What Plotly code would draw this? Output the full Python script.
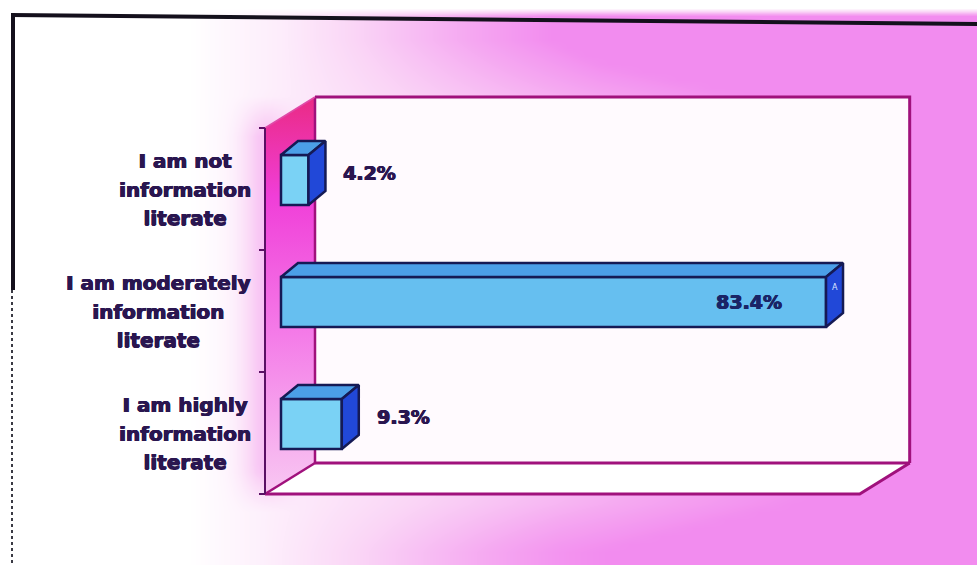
import numpy as np
import plotly.graph_objects as go

# ---------------- data ----------------
categories = [
    "I am highly information literate",
    "I am moderately information literate",
    "I am not information literate",
]
label_lines = [
    ["I am highly", "information", "literate"],
    ["I am moderately", "information", "literate"],
    ["I am not", "information", "literate"],
]
percent = [9.3, 83.4, 4.2]
value_text = ["9.3%", "83.4%", "4.2%"]
axis_max = 91  # end of the value axis (percent)

# ---------------- page geometry ----------------
W, H = 977, 565
PX_PER_PCT = 6.535     # horizontal pixels per percent
PX_PER_CAT = 122       # vertical pixels per category slot
ORIGIN_PX = 265        # pixel column of the value-axis zero on the front plane
TOP_PX = 128           # pixel row of the top of the front plane

n = len(categories)
cat_pos = np.arange(n, dtype=float)
y_top = n - 0.5
y_bot = -0.5
x_range = [-ORIGIN_PX / PX_PER_PCT, (W - ORIGIN_PX) / PX_PER_PCT]
y_range = [y_top - (H - TOP_PX) / PX_PER_CAT, y_top + TOP_PX / PX_PER_CAT]


def dx(px):
    return px / PX_PER_PCT


def dy(px):
    return px / PX_PER_CAT


# depth vectors of the 3-D look (pixels -> data units)
FDX, FDY = dx(50), dy(31)        # full depth of the walls / floor
BZX, BZY = dx(16), dy(9)         # bars sit this far back from the front plane
BDX, BDY = dx(17), dy(14)        # thickness of a bar in depth
BAR_H = dy(50)                   # bar height in category units

FRAME = "#a0117c"
NAVY = "#151a55"
TEXT = "#2a1650"


def heavy(color):
    # thicken glyphs a little with a tight text shadow
    return f"0.7px 0 0 {color}, -0.4px 0 0 {color}, 0 0.4px 0 {color}"


fig = go.Figure()

# ---------------- background wash ----------------
xp = np.arange(0, W + 8, 8, dtype=float)
yp = np.arange(0, H + 8, 8, dtype=float)
XP, YP = np.meshgrid(xp, yp)
base = np.clip((XP - 190) / 620, 0, 1) ** 0.9
top_band = np.clip((110 - YP) / 70, 0, 1) * np.clip((XP - 280) / 320, 0, 1)
bottom_band = np.clip((YP - 500) / 50, 0, 1) * np.clip((XP - 260) / 300, 0, 1)
vert = np.clip((YP - 95) / 40, 0, 1) * np.clip((510 - YP) / 40, 0, 1)
glow = 0.42 * np.exp(-((XP - 266) / 24) ** 2) * vert
z = np.clip(base + 0.45 * top_band + 0.3 * bottom_band + glow, 0, 1)
z[(YP < 16) | (XP < 12)] = 0
fig.add_trace(go.Heatmap(
    x=(xp - ORIGIN_PX) / PX_PER_PCT,
    y=y_top - (yp - TOP_PX) / PX_PER_CAT,
    z=z, zmin=0, zmax=1, zsmooth="best", showscale=False, hoverinfo="skip",
    colorscale=[[0, "#ffffff"], [0.4, "#fad6f6"], [0.75, "#f5a8f1"], [1, "#f28cef"]],
))


def poly(xs, ys, **kw):
    fig.add_trace(go.Scatter(x=list(xs) + [xs[0]], y=list(ys) + [ys[0]], mode="lines",
                             fill="toself", hoverinfo="skip", showlegend=False, **kw))


def seg(xs, ys, color=FRAME, width=3, xaxis="x", yaxis="y"):
    fig.add_trace(go.Scatter(x=xs, y=ys, mode="lines", line=dict(color=color, width=width),
                             hoverinfo="skip", showlegend=False, xaxis=xaxis, yaxis=yaxis))


# ---------------- walls and floor ----------------
# back wall
poly([FDX, axis_max + FDX, axis_max + FDX, FDX],
     [y_bot + FDY, y_bot + FDY, y_top + FDY, y_top + FDY],
     fillcolor="#fffafe", line=dict(width=0))
# floor
poly([0, axis_max, axis_max + FDX, FDX],
     [y_bot, y_bot, y_bot + FDY, y_bot + FDY],
     fillcolor="#ffffff", line=dict(width=0))
# side wall with a vertical colour ramp
poly([0, 0, FDX, FDX],
     [y_bot, y_top, y_top + FDY, y_bot + FDY],
     line=dict(width=0), fillcolor="#f050e0",
     fillgradient=dict(type="vertical",
                       colorscale=[[0, "#f8c8f2"], [0.4, "#f47ce8"], [0.75, "#f03ed8"], [1, "#ea2a84"]]))

# frame edges
seg([FDX, axis_max + FDX, axis_max + FDX], [y_top + FDY, y_top + FDY, y_bot + FDY])
seg([FDX, axis_max + FDX], [y_bot + FDY, y_bot + FDY])
seg([FDX, FDX], [y_bot + FDY, y_top + FDY], width=2.5)
seg([0, axis_max, axis_max + FDX], [y_bot, y_bot, y_bot + FDY])
seg([0, FDX], [y_bot, y_bot + FDY], width=2.5)
seg([0, FDX], [y_top, y_top + FDY], color="#e04aa8", width=1.5)
# category axis with tick marks between slots
seg([0, 0], [y_bot, y_top], color="#5a1064", width=2)
for b in np.arange(y_bot, y_top + 0.01, 1.0):
    seg([dx(-6), 0], [b, b], color="#5a1064", width=2)

# ---------------- bars (drawn on an overlaid subplot so they sit above the walls) ----------------
front_colors = ["#7ad2f5", "#66bff0", "#7ad2f5"]
fig.add_trace(go.Bar(
    y=cat_pos + BZY, x=percent, base=BZX, orientation="h", width=BAR_H,
    marker=dict(color=front_colors, line=dict(color=NAVY, width=2.5)),
    hoverinfo="skip", showlegend=False, xaxis="x2", yaxis="y2",
))
for c, v in zip(cat_pos, percent):
    x0, x1 = BZX, BZX + v
    yb, yt = c + BZY - BAR_H / 2, c + BZY + BAR_H / 2
    # top face
    fig.add_trace(go.Scatter(x=[x0, x1, x1 + BDX, x0 + BDX, x0], y=[yt, yt, yt + BDY, yt + BDY, yt],
                             mode="lines", fill="toself", fillcolor="#4b9fe8",
                             line=dict(color=NAVY, width=2.5), hoverinfo="skip", showlegend=False,
                             xaxis="x2", yaxis="y2"))
    # end face
    fig.add_trace(go.Scatter(x=[x1, x1 + BDX, x1 + BDX, x1, x1], y=[yb, yb + BDY, yt + BDY, yt, yb],
                             mode="lines", fill="toself", fillcolor="#2148d8",
                             line=dict(color=NAVY, width=2.5), hoverinfo="skip", showlegend=False,
                             xaxis="x2", yaxis="y2"))

# ---------------- text ----------------
annotations = []
for c, lines in zip(cat_pos, label_lines):
    annotations.append(dict(
        x=dx(-12), y=c, xref="x", yref="y", xanchor="right", yanchor="middle", align="center",
        showarrow=False,
        text="<br>".join(f"<span style='font-size:20px'>{t}</span>" for t in lines),
        font=dict(family="DejaVu Sans", size=22, color=TEXT, weight="bold", shadow=heavy(TEXT)),
    ))

for c, v, t in zip(cat_pos, percent, value_text):
    if v > 50:
        annotations.append(dict(x=BZX + v - dx(42), y=c + BZY, xref="x2", yref="y2",
                                xanchor="right", yanchor="middle", showarrow=False, text=t,
                                font=dict(family="DejaVu Sans", size=19, color="#1a2466", weight="bold",
                                          shadow=heavy("#1a2466"))))
        annotations.append(dict(x=BZX + v + BDX / 2, y=c + BZY + BDY / 2 + BAR_H * 0.15, xref="x2", yref="y2",
                                xanchor="center", yanchor="middle", showarrow=False, text="A",
                                font=dict(family="DejaVu Sans", size=8, color="#dfe8ff")))
    else:
        annotations.append(dict(x=BZX + v + BDX + dx(16), y=c + BZY + BDY / 2, xref="x2", yref="y2",
                                xanchor="left", yanchor="middle", showarrow=False, text=t,
                                font=dict(family="DejaVu Sans", size=19, color=TEXT, weight="bold",
                                          shadow=heavy(TEXT))))

# ---------------- scanned page border ----------------
shapes = [
    dict(type="line", xref="paper", yref="paper", x0=11 / W, y0=1 - 15 / H, x1=1, y1=1 - 24 / H,
         line=dict(color="#14101c", width=4)),
    dict(type="line", xref="paper", yref="paper", x0=13 / W, y0=1 - 13 / H, x1=13 / W, y1=1 - 290 / H,
         line=dict(color="#14101c", width=4)),
    dict(type="line", xref="paper", yref="paper", x0=12 / W, y0=1 - 290 / H, x1=12 / W, y1=0,
         line=dict(color="#3a3a44", width=2, dash="dot")),
]

axis_common = dict(visible=False, fixedrange=True, showgrid=False, zeroline=False)
fig.update_layout(
    width=W, height=H, margin=dict(l=0, r=0, t=0, b=0),
    paper_bgcolor="#ffffff", plot_bgcolor="#ffffff",
    xaxis=dict(range=x_range, domain=[0, 1], **axis_common),
    yaxis=dict(range=y_range, domain=[0, 1], **axis_common),
    xaxis2=dict(range=x_range, overlaying="x", **axis_common),
    yaxis2=dict(range=y_range, overlaying="y", **axis_common),
    annotations=annotations, shapes=shapes, showlegend=False,
    barmode="overlay",
)

fig.write_html("out.html")
